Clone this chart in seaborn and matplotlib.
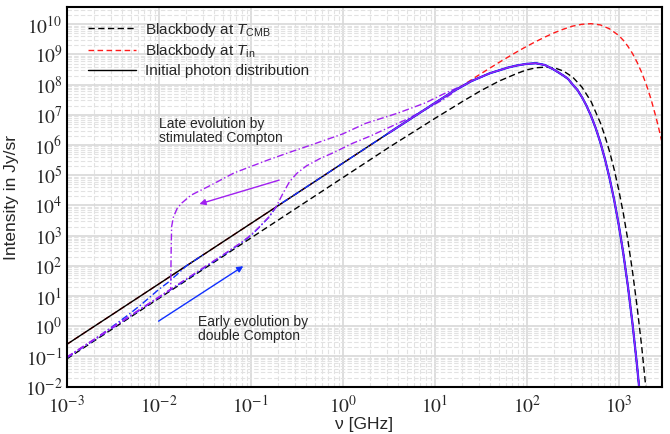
import numpy as np
import pandas as pd
import matplotlib
matplotlib.use("Agg")
import matplotlib.pyplot as plt
import seaborn as sns
from matplotlib.lines import Line2D
from matplotlib.ticker import LogLocator, FuncFormatter, NullFormatter

# valores (log10 de nu en GHz, log10 de I en Jy/sr)
cmb_lognu = [-3.0, -1.0, 0.0, 0.5, 1.0, 1.3, 1.5, 1.7, 1.9, 2.0, 2.1, 2.2, 2.3, 2.4, 2.5,
             2.6, 2.7, 2.8, 2.85, 2.9, 2.95, 3.0, 3.05, 3.1, 3.15, 3.2, 3.25, 3.3]
cmb_logI = [-1.08, 2.92, 4.92, 5.92, 6.88, 7.44, 7.80, 8.12, 8.38, 8.49, 8.56, 8.58, 8.56, 8.45, 8.25,
            7.92, 7.44, 6.74, 6.30, 5.79, 5.20, 4.52, 3.74, 2.84, 1.81, 0.64, -0.68, -2.19]

tin_lognu = [-3.0, 0.0, 1.0, 1.3, 1.5, 1.7, 1.9, 2.0, 2.1, 2.2, 2.3, 2.4, 2.5, 2.6, 2.7, 2.8,
             2.9, 3.0, 3.05, 3.1, 3.15, 3.2, 3.25, 3.3, 3.35, 3.4, 3.43, 3.47]
tin_logI = [-0.60, 5.40, 7.39, 7.97, 8.36, 8.74, 9.10, 9.27, 9.43, 9.58, 9.72, 9.84, 9.94, 10.00, 10.02, 9.98,
            9.85, 9.63, 9.47, 9.27, 9.03, 8.74, 8.40, 8.00, 7.53, 6.98, 6.62, 6.10]

init_lognu = [-3.0, -2.0, -1.0, 0.0, 0.5, 1.0, 1.2, 1.4, 1.6, 1.8, 1.9, 2.0, 2.1, 2.2, 2.3, 2.4,
              2.45, 2.5, 2.55, 2.6, 2.65, 2.7, 2.75, 2.8, 2.85, 2.9, 2.95, 3.0, 3.05, 3.1, 3.15, 3.2, 3.25]
init_logI = [-0.60, 1.40, 3.40, 5.40, 6.40, 7.39, 7.78, 8.12, 8.38, 8.57, 8.64, 8.69, 8.71, 8.65, 8.49, 8.30,
             8.19, 8.00, 7.83, 7.59, 7.30, 6.96, 6.56, 6.09, 5.54, 4.91, 4.19, 3.36, 2.41, 1.32, 0.08, -1.33, -2.92]

# evolucion temprana (doble Compton)
early1_lognu = [-3.0, -2.7, -2.5, -2.33, -2.19, -2.0, -1.9, -1.8, -1.7, -1.5]
early1_logI = [-1.03, -0.44, 0.0, 0.38, 0.72, 1.22, 1.45, 1.72, 2.0, 2.4]
early2_lognu = [-3.0, -2.0, -1.3, -1.1, -1.0, -0.9, -0.8, -0.72, -0.5]
early2_logI = [-1.05, 0.95, 2.35, 2.77, 3.0, 3.3, 3.62, 3.97, 4.40]

# evolucion tardia (Compton estimulado)
late1_lognu = [-3.0, -2.0, -1.87, -1.865, -1.86, -1.84, -1.80, -1.75, -1.65, -1.46, -1.18, -0.81,
               -0.56, -0.30, 0.0, 0.25, 0.6, 0.9, 1.1, 1.3]
late1_logI = [-1.04, 0.96, 1.22, 2.5, 3.3, 3.62, 3.90, 4.08, 4.34, 4.63, 5.08, 5.51,
              5.78, 6.05, 6.37, 6.72, 7.06, 7.40, 7.70, 7.97]
late2_lognu = [-3.0, -2.0, -1.3, -1.1, -1.0, -0.9, -0.8, -0.72, -0.65, -0.58, -0.5, -0.4, -0.25,
               -0.1, 0.1, 0.3, 0.5, 0.7, 0.9, 1.1, 1.3]
late2_logI = [-1.02, 0.97, 2.37, 2.78, 3.02, 3.31, 3.63, 3.98, 4.40, 4.78, 5.06, 5.30, 5.55,
              5.75, 6.05, 6.30, 6.58, 6.86, 7.18, 7.52, 7.95]

legend_labels = [r"Blackbody at $T_{\mathrm{CMB}}$", r"Blackbody at $T_{\mathrm{in}}$",
                 "Initial photon distribution"]
x_ticks = [1e-3, 1e-2, 1e-1, 1e0, 1e1, 1e2, 1e3]
y_ticks = [10.0 ** k for k in range(-2, 11)]

blue = "#1030ff"
purple = "#a020f0"


def tail_from(lognu_start):
    # la curva se une a la distribucion inicial
    idx = [i for i, v in enumerate(init_lognu) if v >= lognu_start]
    return [init_lognu[i] for i in idx], [init_logI[i] for i in idx]


curves = {}
curves["tin"] = (tin_lognu, tin_logI)
curves["cmb"] = (cmb_lognu, cmb_logI)
curves["init"] = (init_lognu, init_logI)
curves["early1"] = (early1_lognu, early1_logI)
t = tail_from(0.0)
curves["early2"] = (early2_lognu + t[0], early2_logI + t[1])
t = tail_from(1.4)
curves["late1"] = (late1_lognu + t[0], late1_logI + t[1])
curves["late2"] = (late2_lognu + t[0], late2_logI + t[1])
t = tail_from(0.5)
curves["final_blue"] = t
curves["final_purple"] = t

rows = []
for name, (ln, li) in curves.items():
    for a, b in zip(ln, li):
        rows.append((name, 10.0 ** a, 10.0 ** b))
df = pd.DataFrame(rows, columns=["curve", "nu", "I"])

order = list(curves.keys())
palette = {"tin": "#ff1a1a", "cmb": "black", "init": "black", "early1": blue, "early2": blue,
           "late1": purple, "late2": purple, "final_blue": blue, "final_purple": purple}
dd = (5, 1.8, 1, 1.8)
dash_map = {"tin": (4, 2.5), "cmb": (4.5, 2.5), "init": "", "early1": dd, "early2": dd,
            "late1": dd, "late2": dd, "final_blue": "", "final_purple": ""}

sns.set_style("white")
plt.rcParams["font.family"] = ["Liberation Sans", "DejaVu Sans"]
plt.rcParams["mathtext.fontset"] = "stix"
plt.rcParams["mathtext.rm"] = "Liberation Sans"
plt.rcParams["mathtext.it"] = "Liberation Sans:italic"

fig = plt.figure(figsize=(6.7, 4.34), dpi=100)
ax = fig.add_axes([0.0996, 0.109, 0.888, 0.874])
ax.set_xscale("log")
ax.set_yscale("log")

sns.lineplot(data=df, x="nu", y="I", hue="curve", style="curve", hue_order=order, style_order=order,
             palette=palette, dashes=dash_map, estimator=None, sort=False, linewidth=1.0,
             legend=False, ax=ax)

for line, name in zip(ax.get_lines(), order):
    if name == "final_blue":
        line.set_linewidth(1.6)
    if name == "final_purple":
        line.set_linewidth(0.9)

ax.set_xlim(1e-3, 10 ** 3.467)
ax.set_ylim(1e-2, 10 ** 10.56)

ax.xaxis.set_major_locator(LogLocator(base=10, numticks=20))
ax.yaxis.set_major_locator(LogLocator(base=10, numticks=20))
ax.xaxis.set_minor_locator(LogLocator(base=10, subs=np.arange(2, 10), numticks=200))
ax.yaxis.set_minor_locator(LogLocator(base=10, subs=np.arange(2, 10), numticks=200))
fmt = FuncFormatter(lambda v, p: r"$10^{%d}$" % int(round(np.log10(v))))
ax.xaxis.set_major_formatter(fmt)
ax.yaxis.set_major_formatter(fmt)
ax.xaxis.set_minor_formatter(NullFormatter())
ax.yaxis.set_minor_formatter(NullFormatter())
ax.set_xticks(x_ticks)
ax.set_yticks(y_ticks)
ax.tick_params(which="both", length=0, labelsize=14)
ax.tick_params(axis="x", pad=6)
ax.tick_params(axis="y", pad=3)

ax.grid(which="major", color="#d8d8d8", linewidth=1.2, linestyle="-")
ax.grid(which="minor", color="#e2e2e2", linewidth=0.8, linestyle=(0, (4, 2)))
ax.set_axisbelow(True)
for s in ax.spines.values():
    s.set_linewidth(1.5)
    s.set_color("black")

ax.set_xlabel("ν [GHz]", fontsize=12.5, labelpad=0)
ax.set_ylabel("Intensity in Jy/sr", fontsize=12.5, labelpad=4)

# flechas y anotaciones
ax.annotate("", xy=(10 ** -1.558, 10 ** 4.05), xytext=(10 ** -0.691, 10 ** 4.84),
            arrowprops=dict(arrowstyle="-|>", color=purple, lw=1.0, mutation_scale=9,
                            shrinkA=0, shrinkB=0))
ax.annotate("", xy=(10 ** -1.081, 10 ** 1.99), xytext=(10 ** -2.002, 10 ** 0.17),
            arrowprops=dict(arrowstyle="-|>", color=blue, lw=1.0, mutation_scale=9,
                            shrinkA=0, shrinkB=0))
ax.text(10 ** -2.0, 10 ** 6.46, "Late evolution by\nstimulated Compton", fontsize=10,
        ha="left", va="center", linespacing=1.0)
ax.text(10 ** -1.574, 10 ** -0.1, "Early evolution by\ndouble Compton", fontsize=10,
        ha="left", va="center", linespacing=1.0)

handles = [Line2D([], [], color="black", lw=1.0, dashes=(4.5, 2.5)),
           Line2D([], [], color="#ff1a1a", lw=1.0, dashes=(4, 2.5)),
           Line2D([], [], color="black", lw=1.0)]
leg = ax.legend(handles, legend_labels, loc="upper left", bbox_to_anchor=(0.036, 0.965),
                frameon=False, fontsize=11, handlelength=3.1, handletextpad=0.6,
                labelspacing=0.25, borderpad=0, borderaxespad=0)
for txt in leg.get_texts():
    txt.set_math_fontfamily("custom")

fig.savefig("out.png", dpi=100)
